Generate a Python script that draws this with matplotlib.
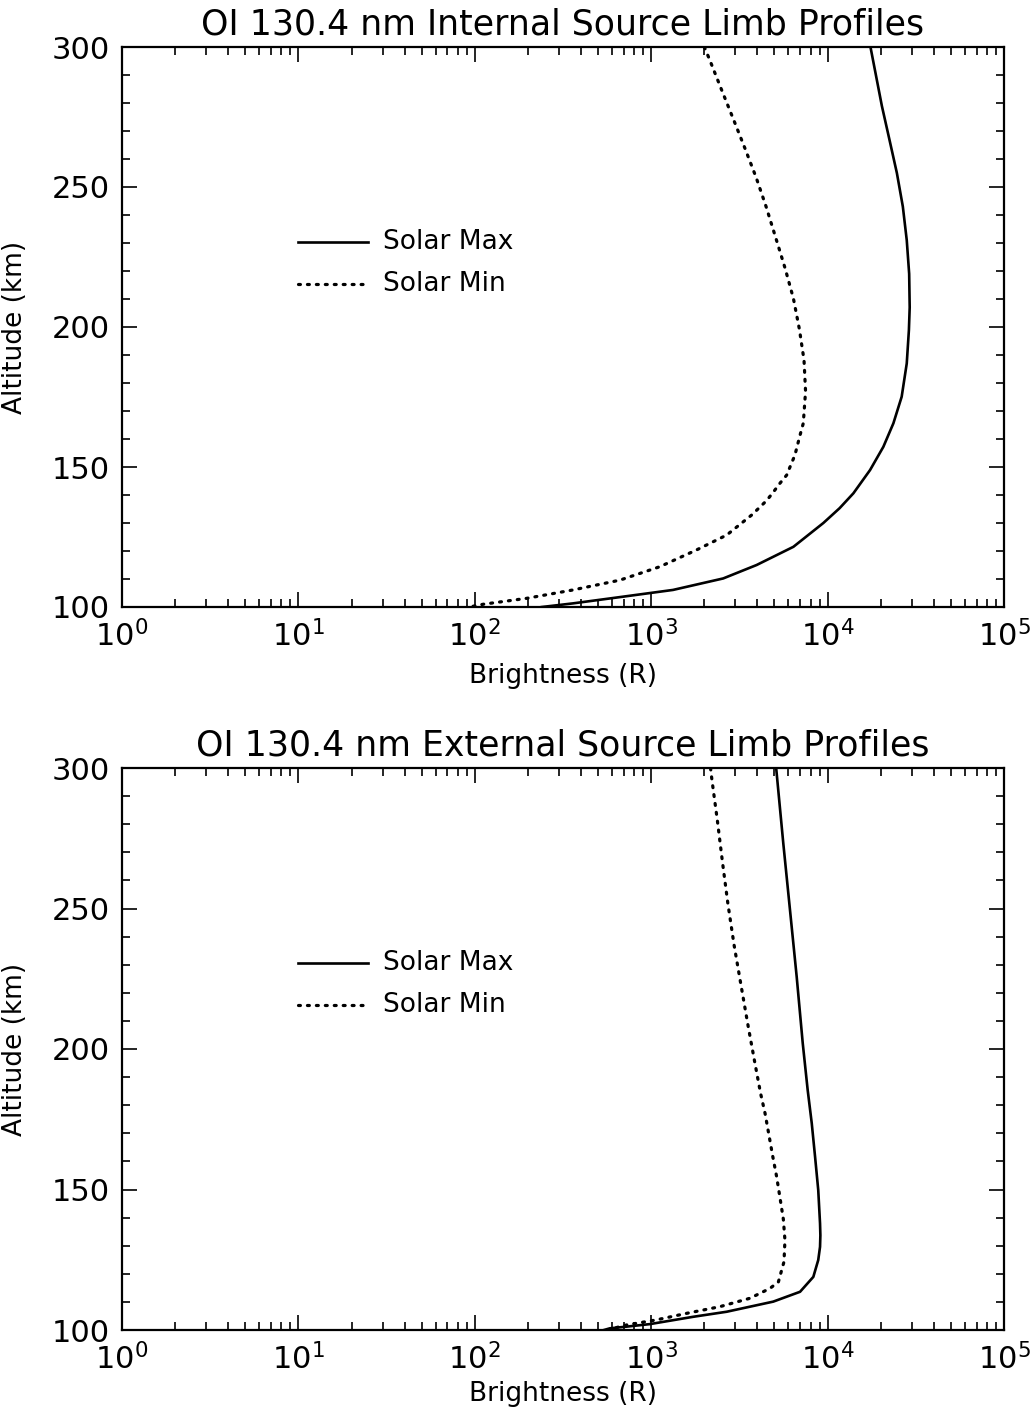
import matplotlib
matplotlib.use("Agg")
import matplotlib.pyplot as plt
from matplotlib.ticker import LogLocator, LogFormatterMathtext, MultipleLocator, NullFormatter

plt.rcParams["font.family"] = ["DejaVu Sans"]
plt.rcParams["mathtext.default"] = "regular"

# Internal source limb profiles (altitude km, brightness R)
int_max_alt = [300, 279, 267, 255, 243, 231, 219, 207, 198.9, 187, 175.1, 165.6, 157.2, 148.9,
               140.6, 135.3, 130, 121.5, 115, 110.2, 106.1, 103.7, 101.3, 100]
int_max_br = [17500, 20300, 22400, 24700, 26700, 28100, 29000, 29200, 28900, 28100, 26300,
              23600, 20700, 17400, 14000, 11700, 9460, 6400, 3960, 2560, 1330, 695, 361, 240]
int_min_alt = [300, 295.6, 284.6, 274.3, 263.8, 253.5, 243, 231.9, 221, 210.2, 199.2, 188.2,
               177, 165.6, 161.4, 154.3, 147.1, 144.2, 141, 138, 132.9, 125.7, 120.4, 114.4,
               109.6, 106.1, 103.1, 101, 100]
int_min_br = [2000, 2140, 2510, 2920, 3400, 3930, 4480, 5080, 5740, 6400, 6920, 7350, 7500,
              7280, 6980, 6530, 5860, 5370, 4920, 4510, 3720, 2680, 1810, 1120, 665, 361, 197,
              112, 93]

# External source limb profiles
ext_max_alt = [300, 273.1, 249.5, 225.7, 202, 185.4, 173.6, 161.7, 149.8, 137.9, 133.7, 129.6,
               124.9, 118.9, 113.6, 110.1, 106.5, 104.7, 102.1, 101.2, 100.6, 100]
ext_max_br = [5110, 5610, 6120, 6680, 7230, 7710, 8130, 8490, 8850, 9060, 9100, 9060, 8850,
              8300, 6980, 4920, 2680, 1730, 984, 726, 583, 540]
ext_min_alt = [300, 295.7, 281.5, 266.1, 251.8, 237, 222.2, 207.9, 194.3, 184.2, 177.1, 169.4,
               162, 154.6, 147.1, 139.5, 132, 124.3, 117.1, 114.8, 111.3, 108.3, 105.9, 103.6,
               101.8, 100.8]
ext_min_br = [2170, 2210, 2370, 2540, 2720, 2950, 3240, 3550, 3890, 4170, 4420, 4650, 4880,
              5140, 5370, 5610, 5730, 5660, 5260, 4710, 3630, 2450, 1580, 1070, 726, 630]

titles = ["OI 130.4 nm Internal Source Limb Profiles",
          "OI 130.4 nm External Source Limb Profiles"]
series = [
    (int_max_alt, int_max_br, int_min_alt, int_min_br),
    (ext_max_alt, ext_max_br, ext_min_alt, ext_min_br),
]

fig = plt.figure(figsize=(10.33, 14.15), dpi=100)
W, H = 1033, 1415
boxes = [(122, 47, 1004, 607), (122, 768, 1004, 1330)]
xlabel_y = [-0.100, -0.090]

dotted = (0, (0.6, 2.2))

for (x0, y0, x1, y1), title, (amx, bmx, amn, bmn), xly in zip(boxes, titles, series, xlabel_y):
    ax = fig.add_axes([x0 / W, 1 - y1 / H, (x1 - x0) / W, (y1 - y0) / H])
    ax.plot(bmx, amx, color="black", lw=1.9, solid_joinstyle="round")
    ax.plot(bmn, amn, color="black", lw=2.3, linestyle=dotted, dash_capstyle="round")

    ax.set_xscale("log")
    ax.set_xlim(1, 1e5)
    ax.set_ylim(100, 300)
    ax.xaxis.set_major_locator(LogLocator(base=10, numticks=10))
    ax.xaxis.set_major_formatter(LogFormatterMathtext())
    ax.xaxis.set_minor_locator(LogLocator(base=10, subs=range(2, 10), numticks=20))
    ax.xaxis.set_minor_formatter(NullFormatter())
    ax.yaxis.set_major_locator(MultipleLocator(50))
    ax.yaxis.set_minor_locator(MultipleLocator(10))

    ax.tick_params(which="both", direction="in", top=True, right=True, width=1.2)
    ax.tick_params(which="major", length=11, labelsize=22, pad=9)
    ax.tick_params(which="minor", length=5.5)
    for s in ax.spines.values():
        s.set_linewidth(1.6)

    ax.set_xlabel("Brightness (R)", fontsize=19)
    ax.xaxis.set_label_coords(0.5, xly)
    ax.set_ylabel("Altitude (km)", fontsize=19)
    ax.yaxis.set_label_coords(-0.107, 0.5)
    ax.set_title(title, fontsize=25, pad=9)

    # legend drawn in data coordinates, as in the original
    ax.plot([10, 24.8], [230.5, 230.5], color="black", lw=1.9)
    ax.plot([10, 24.8], [215.5, 215.5], color="black", lw=2.3, linestyle=dotted,
            dash_capstyle="round")
    ax.text(30, 230.5, "Solar Max", fontsize=19, va="center")
    ax.text(30, 215.5, "Solar Min", fontsize=19, va="center")

fig.savefig("out.png", dpi=100, facecolor="white")
